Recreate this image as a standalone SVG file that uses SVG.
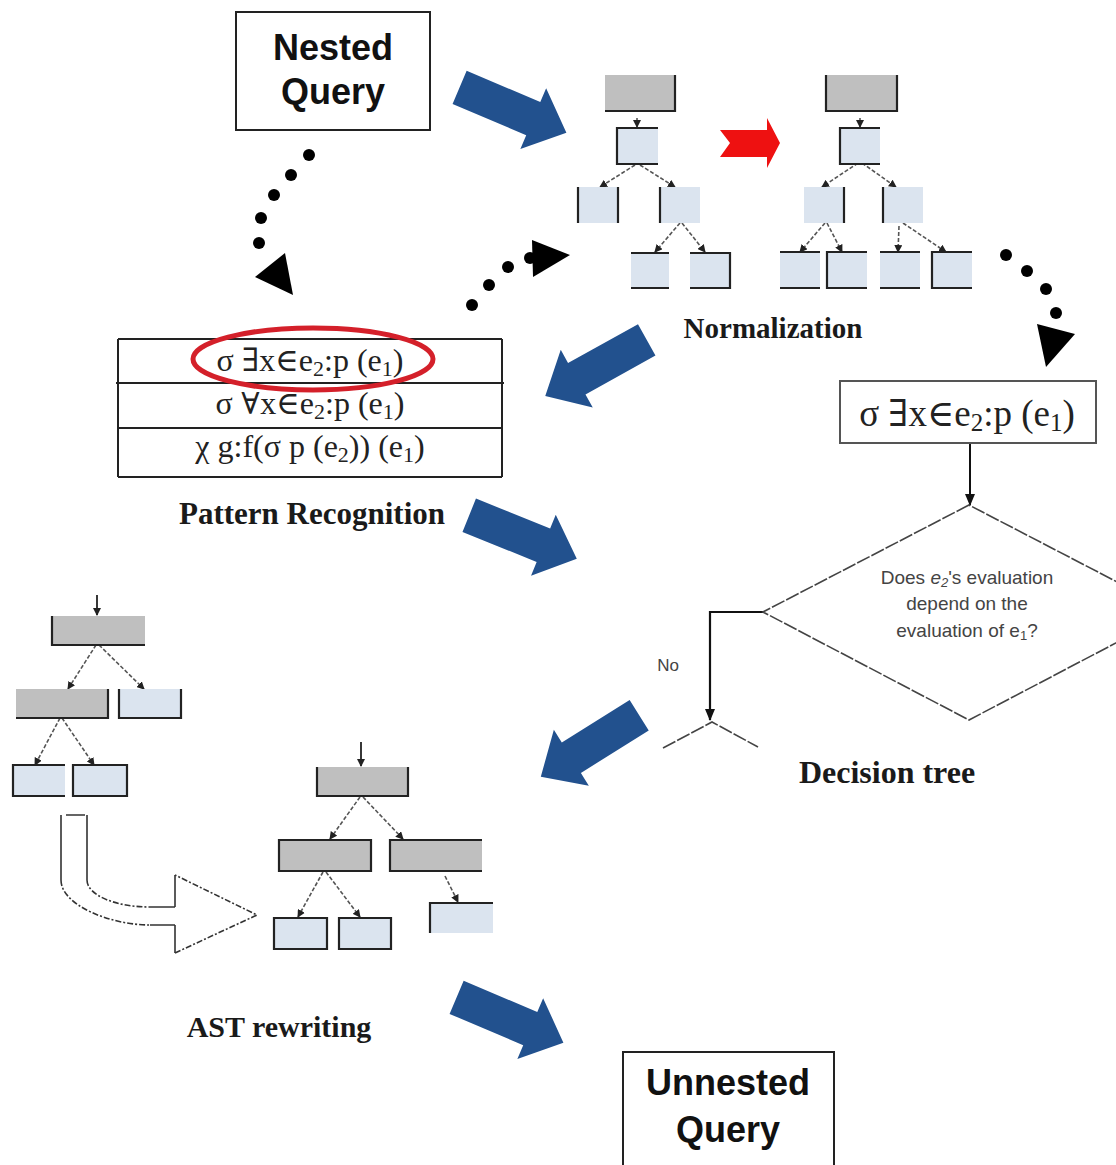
<svg xmlns="http://www.w3.org/2000/svg" xmlns:xlink="http://www.w3.org/1999/xlink" width="1116" height="1165" viewBox="0 0 1116 1165">
<style>
.blue{fill:#22518e}
.lbl{font-family:"Liberation Serif","Times New Roman",serif;font-weight:bold;font-size:30px;fill:#1a1a1a;text-anchor:middle}
.big{font-family:"Liberation Sans",Arial,sans-serif;font-weight:bold;font-size:36px;fill:#111;text-anchor:middle}
.math{font-family:"Liberation Serif","DejaVu Serif",serif;font-size:32px;fill:#222;text-anchor:middle}
.q{font-family:"Liberation Sans","Open Sans",sans-serif;font-size:19px;fill:#444;text-anchor:middle}
.g{fill:#bfbfbf}
.l{fill:#dbe4ef}
.edge{fill:none;stroke:#222;stroke-width:2.2}
.dash{fill:none;stroke:#555;stroke-width:1.6;stroke-dasharray:4 2;marker-end:url(#sm)}
.solid{fill:none;stroke:#222;stroke-width:1.8}
.dot{fill:#000}
</style>
<defs>
  <path id="blueArrow" d="M-58,-18 L22,-18 L22,-33 L58,0 L22,33 L22,18 L-58,18 Z"/>
  <marker id="sm" markerUnits="userSpaceOnUse" markerWidth="8" markerHeight="8" viewBox="0 0 8 8" refX="7" refY="4" orient="auto">
    <path d="M0,0 L8,4 L0,8 Z" fill="#222"/>
  </marker>
  <marker id="ar" markerUnits="userSpaceOnUse" markerWidth="12" markerHeight="12" viewBox="0 0 12 12" refX="11" refY="6" orient="auto">
    <path d="M0,1 L12,6 L0,11 Z" fill="#111"/>
  </marker>
  <clipPath id="row2clip"><rect x="118" y="392" width="384" height="40"/></clipPath>
</defs>

<!-- Flow arrows between stages -->
<g id="flow">
  <use xlink:href="#blueArrow" class="blue" transform="translate(513,110) rotate(23)"/>
  <use xlink:href="#blueArrow" class="blue" transform="translate(596,368) rotate(151)"/>
  <use xlink:href="#blueArrow" class="blue" transform="translate(523,537) rotate(22)"/>
  <use xlink:href="#blueArrow" class="blue" transform="translate(590,746) rotate(148)"/>
  <use xlink:href="#blueArrow" class="blue" transform="translate(510,1020) rotate(23)"/>
  <path d="M720,130 L767,130 L767,118 L780,143 L767,168 L767,157 L720,157 L730,143 Z" fill="#ee1111"/>
</g>

<!-- Dotted transitions -->
<g id="connectors">
  <g class="dot">
    <circle cx="309" cy="155" r="6"/><circle cx="291" cy="175" r="6"/><circle cx="274" cy="195" r="6"/><circle cx="261" cy="218" r="6"/><circle cx="259" cy="243" r="6"/>
    <path d="M255,277 L293,295 L285,253 Z"/>
    <circle cx="472" cy="305" r="6"/><circle cx="489" cy="285" r="6"/><circle cx="508" cy="267" r="6"/><circle cx="530" cy="258" r="6"/>
    <path d="M532,240 L570,255 L533,277 Z"/>
    <circle cx="1006" cy="255" r="6"/><circle cx="1027" cy="271" r="6"/><circle cx="1046" cy="289" r="6"/><circle cx="1056" cy="313" r="6"/>
    <path d="M1037,324 L1075,334 L1046,367 Z"/>
  </g>
  <!-- tree edges: normalization, first tree -->
  <path class="dash" d="M637,118 L637,127"/>
  <path class="dash" d="M635,165 L600,187"/>
  <path class="dash" d="M640,165 L675,187"/>
  <path class="dash" d="M680,223 L655,252"/>
  <path class="dash" d="M682,223 L705,252"/>
  <!-- normalization, second tree -->
  <path class="dash" d="M860,118 L860,127"/>
  <path class="dash" d="M858,163 L822,187"/>
  <path class="dash" d="M862,163 L896,187"/>
  <path class="dash" d="M825,223 L800,252"/>
  <path class="dash" d="M827,223 L842,252"/>
  <path class="dash" d="M899,226 L898,252"/>
  <path class="dash" d="M903,223 L946,252"/>
  <!-- rewriting, source tree -->
  <path class="solid" d="M97,595 L97,615" marker-end="url(#sm)"/>
  <path class="dash" d="M96,645 L68,689"/>
  <path class="dash" d="M99,645 L144,689"/>
  <path class="dash" d="M60,718 L35,765"/>
  <path class="dash" d="M62,718 L94,765"/>
  <!-- rewriting, target tree -->
  <path class="solid" d="M361,742 L361,766" marker-end="url(#sm)"/>
  <path class="dash" d="M360,797 L330,839"/>
  <path class="dash" d="M363,797 L403,839"/>
  <path class="dash" d="M323,872 L298,917"/>
  <path class="dash" d="M326,872 L360,917"/>
  <path class="dash" d="M445,876 L458,902"/>
  <!-- decision flow -->
  <path d="M970,443 L970,505" fill="none" stroke="#111" stroke-width="2" marker-end="url(#ar)"/>
  <path d="M763,612 L710,612 L710,720" fill="none" stroke="#111" stroke-width="2.2" marker-end="url(#ar)"/>
  <path d="M663,748 L712,722 L758,747" fill="none" stroke="#444" stroke-width="1.6" stroke-dasharray="14 2"/>
  <!-- hollow rewriting arrow -->
  <g fill="none" stroke="#333" stroke-width="1.6">
    <path d="M61,815 V880 M87,815 V880 M175,925 V953 M175,875 V907 M66,815 H85 M150,925 H175 M150,907 H175"/>
    <path d="M61,880 C61,905 110,925 150,925 M87,880 C87,895 115,907 150,907 M175,953 L257,915 L175,875" stroke-dasharray="6 2 2 2"/>
  </g>
</g>

<!-- Nested query -->
<g id="nested-query">
  <rect x="236" y="12" width="194" height="118" fill="#fff" stroke="#222" stroke-width="2"/>
  <text class="big" x="333" y="60">Nested</text>
  <text class="big" x="333" y="104">Query</text>
</g>

<!-- Normalization: tree before -->
<g id="norm-a-root"><rect class="g" x="605" y="75" width="70" height="36"/><path class="edge" d="M605,111 H675 V75"/></g>
<g id="norm-a-n1"><rect class="l" x="617" y="128" width="41" height="36"/><path class="edge" d="M658,128 H617 V164 H658"/></g>
<g id="norm-a-n2"><rect class="l" x="578" y="187" width="40" height="36"/><path class="edge" d="M578,187 V223 M618,187 V223"/></g>
<g id="norm-a-n3"><rect class="l" x="660" y="187" width="40" height="36"/><path class="edge" d="M660,187 V223"/></g>
<g id="norm-a-n4"><rect class="l" x="631" y="253" width="38" height="35"/><path class="edge" d="M631,253 H669 M631,288 H669"/></g>
<g id="norm-a-n5"><rect class="l" x="690" y="253" width="40" height="35"/><path class="edge" d="M690,253 H730 V288 H690"/></g>

<!-- Normalization: tree after -->
<g id="norm-b-root"><rect class="g" x="826" y="75" width="71" height="36"/><path class="edge" d="M826,75 V111 H897 V75"/></g>
<g id="norm-b-n1"><rect class="l" x="840" y="128" width="40" height="36"/><path class="edge" d="M880,128 H840 V164 H880"/></g>
<g id="norm-b-n2"><rect class="l" x="804" y="187" width="40" height="36"/><path class="edge" d="M844,187 V223"/></g>
<g id="norm-b-n3"><rect class="l" x="883" y="187" width="40" height="36"/><path class="edge" d="M883,187 V223"/></g>
<g id="norm-b-n4"><rect class="l" x="780" y="252" width="40" height="36"/><path class="edge" d="M780,252 H820 M780,288 H820"/></g>
<g id="norm-b-n5"><rect class="l" x="827" y="252" width="40" height="36"/><path class="edge" d="M867,252 H827 V288 H867"/></g>
<g id="norm-b-n6"><rect class="l" x="880" y="252" width="40" height="36"/><path class="edge" d="M880,252 H920 M880,288 H920"/></g>
<g id="norm-b-n7"><rect class="l" x="932" y="252" width="40" height="36"/><path class="edge" d="M972,252 H932 V288 H972"/></g>
<text class="lbl" x="773" y="338" style="font-size:29px">Normalization</text>

<!-- Pattern recognition table -->
<g id="patterns">
  <path d="M118,339 H502 M116,383 H504 M118,428 H502 M118,477 H502 M118,339 V477 M502,339 V477" fill="none" stroke="#222" stroke-width="2"/>
  <text class="math" x="310" y="371">σ ∃x∈e<tspan font-size="22" dy="5">2</tspan><tspan dy="-5">:p (e</tspan><tspan font-size="22" dy="5">1</tspan><tspan dy="-5">)</tspan></text>
  <text class="math" x="310" y="414" clip-path="url(#row2clip)">σ ∀x∈e<tspan font-size="22" dy="5">2</tspan><tspan dy="-5">:p (e</tspan><tspan font-size="22" dy="5">1</tspan><tspan dy="-5">)</tspan></text>
  <text class="math" x="310" y="457">χ g:f(σ p (e<tspan font-size="22" dy="5">2</tspan><tspan dy="-5">)) (e</tspan><tspan font-size="22" dy="5">1</tspan><tspan dy="-5">)</tspan></text>
  <ellipse cx="313" cy="359" rx="120" ry="31" fill="none" stroke="#d4202a" stroke-width="5"/>
  <text class="lbl" x="312" y="524" style="font-size:31px">Pattern Recognition</text>
</g>

<!-- Decision tree -->
<g id="decision">
  <rect x="840" y="381" width="256" height="62" fill="#fff" stroke="#555" stroke-width="2"/>
  <text class="math" x="967" y="426" style="font-size:37px">σ ∃x∈e<tspan font-size="25" dy="5">2</tspan><tspan dy="-5">:p (e</tspan><tspan font-size="25" dy="5">1</tspan><tspan dy="-5">)</tspan></text>
  <path d="M969,505 L763,612 L969,720 L1175,612 Z" fill="none" stroke="#444" stroke-width="1.6" stroke-dasharray="14 2"/>
  <text class="q" x="967" y="584">Does <tspan font-style="italic">e</tspan><tspan font-style="italic" font-size="13" dy="3">2</tspan><tspan dy="-3">'s evaluation</tspan></text>
  <text class="q" x="967" y="610">depend on the</text>
  <text class="q" x="967" y="637">evaluation of e<tspan font-size="13" dy="3">1</tspan><tspan dy="-3">?</tspan></text>
  <text class="q" x="668" y="671" style="font-size:17px">No</text>
  <text class="lbl" x="887" y="783" style="font-size:32px">Decision tree</text>
</g>

<!-- AST rewriting: source tree -->
<g id="ast-a-root"><rect class="g" x="52" y="616" width="93" height="29"/><path class="edge" d="M52,616 V645 H145"/></g>
<g id="ast-a-n1"><rect class="g" x="16" y="689" width="92" height="29"/><path class="edge" d="M16,718 H108 V689"/></g>
<g id="ast-a-n2"><rect class="l" x="119" y="689" width="62" height="29"/><path class="edge" d="M119,689 V718 H181 V689"/></g>
<g id="ast-a-n3"><rect class="l" x="13" y="765" width="52" height="31"/><path class="edge" d="M65,765 H13 V796 H65"/></g>
<g id="ast-a-n4"><rect class="l" x="73" y="765" width="54" height="31"/><path class="edge" d="M73,765 H127 V796 H73 Z"/></g>

<!-- AST rewriting: result tree -->
<g id="ast-b-root"><rect class="g" x="317" y="767" width="91" height="29"/><path class="edge" d="M317,767 V796 H408 V767"/></g>
<g id="ast-b-n1"><rect class="g" x="279" y="840" width="92" height="31"/><path class="edge" d="M279,840 H371 V871 H279 Z"/></g>
<g id="ast-b-n2"><rect class="g" x="390" y="840" width="92" height="31"/><path class="edge" d="M482,840 H390 V871 H482"/></g>
<g id="ast-b-n3"><rect class="l" x="274" y="918" width="53" height="31"/><path class="edge" d="M274,918 H327 V949 H274 Z"/></g>
<g id="ast-b-n4"><rect class="l" x="339" y="918" width="52" height="31"/><path class="edge" d="M339,918 H391 V949 H339 Z"/></g>
<g id="ast-b-n5"><rect class="l" x="430" y="903" width="63" height="30"/><path class="edge" d="M493,903 H430 V933"/></g>
<text class="lbl" x="279" y="1037">AST rewriting</text>

<!-- Unnested query -->
<g id="unnested-query">
  <rect x="623" y="1052" width="211" height="130" fill="#fff" stroke="#222" stroke-width="2"/>
  <text class="big" x="728" y="1095">Unnested</text>
  <text class="big" x="728" y="1142">Query</text>
</g>
</svg>
